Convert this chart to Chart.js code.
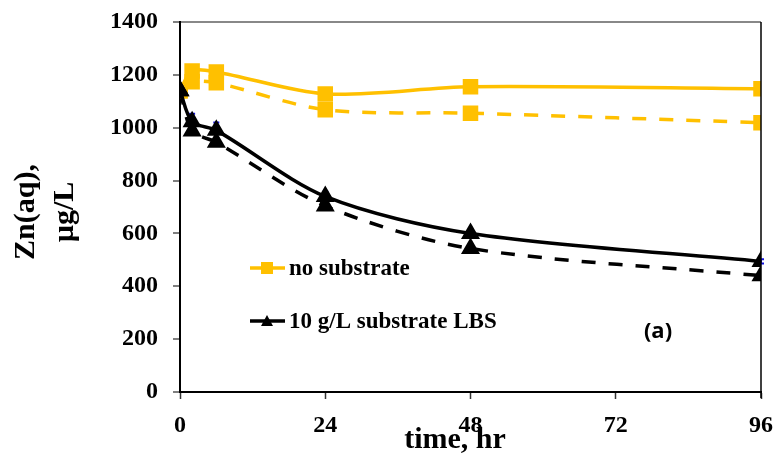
<!DOCTYPE html>
<html>
<head>
<meta charset="utf-8">
<script src="https://cdn.jsdelivr.net/npm/chart.js@4.4.0/dist/chart.umd.min.js"></script>
<style>
  html, body { margin: 0; padding: 0; background: #fff; }
  #wrap { width: 779px; height: 457px; }
</style>
</head>
<body>
<div id="wrap"><canvas id="c" width="779" height="457"></canvas></div>
<script>
// ---- data ----
const timeHr = [0, 2, 6, 24, 48, 96];
const noSubstrateSolid = [1140, 1215, 1211, 1128, 1155, 1147];
const noSubstrateDashed = [1140, 1174, 1170, 1068, 1055, 1019];
const lbsSolid = [1140, 1023, 990, 740, 600, 494];
const lbsDashed = [1140, 988, 945, 704, 543, 440];
const lbsSolidErr = [0, 30, 30, 18, 8, 8];
const xTicks = [0, 24, 48, 72, 96];
const yTicks = [0, 200, 400, 600, 800, 1000, 1200, 1400];
const legendLabels = ["no substrate", "10 g/L substrate LBS"];
const yTitle = ["Zn(aq),", "µg/L"];
const xTitle = "time, hr";
const panelLabel = "(a)";

const YELLOW = '#FFC000';
const BLACK = '#000000';
const SERIF = '"Liberation Serif", "Times New Roman", serif';

const pts = arr => timeHr.map((t, i) => ({ x: t, y: arr[i] }));

const errorBars = {
  id: 'errorBars',
  beforeDatasetsDraw(chart) {
    const { ctx, scales: { x, y } } = chart;
    ctx.save();
    ctx.strokeStyle = '#1010E0';
    ctx.lineWidth = 2;
    timeHr.forEach((t, i) => {
      const e = lbsSolidErr[i];
      if (!e) return;
      const px = x.getPixelForValue(t);
      const top = y.getPixelForValue(lbsSolid[i] + e);
      const bot = y.getPixelForValue(lbsSolid[i] - e);
      ctx.beginPath();
      ctx.moveTo(px, top); ctx.lineTo(px, bot);
      ctx.moveTo(px - 3, top); ctx.lineTo(px + 3, top);
      ctx.moveTo(px - 3, bot); ctx.lineTo(px + 3, bot);
      ctx.stroke();
    });
    ctx.restore();
  }
};

const decor = {
  id: 'decor',
  afterDraw(chart) {
    const { ctx, chartArea: a } = chart;
    ctx.save();
    // right border
    ctx.strokeStyle = '#000';
    ctx.lineWidth = 1.5;
    ctx.beginPath();
    ctx.moveTo(a.right, a.top);
    ctx.lineTo(a.right, a.bottom + 6);
    ctx.stroke();

    // axis titles
    ctx.fillStyle = '#000';
    ctx.font = 'bold 30px ' + SERIF;
    ctx.textAlign = 'center';
    ctx.textBaseline = 'middle';
    ctx.save();
    ctx.translate(26, 212);
    ctx.rotate(-Math.PI / 2);
    ctx.fillText(yTitle[0], 0, 0);
    ctx.restore();
    ctx.save();
    ctx.translate(65, 212);
    ctx.rotate(-Math.PI / 2);
    ctx.fillText(yTitle[1], 0, 0);
    ctx.restore();
    ctx.fillText(xTitle, 455, 440);

    // legend
    const rows = [
      { y: 268, color: YELLOW, shape: 'rect' },
      { y: 321, color: BLACK, shape: 'tri' }
    ];
    ctx.font = 'bold 23px ' + SERIF;
    ctx.textAlign = 'left';
    rows.forEach((r, i) => {
      ctx.strokeStyle = r.color;
      ctx.fillStyle = r.color;
      ctx.lineWidth = 3.5;
      ctx.beginPath();
      ctx.moveTo(250, r.y); ctx.lineTo(285, r.y);
      ctx.stroke();
      if (r.shape === 'rect') {
        ctx.fillRect(267 - 6, r.y - 6, 12, 12);
      } else {
        ctx.beginPath();
        ctx.moveTo(267, r.y - 6);
        ctx.lineTo(273, r.y + 5);
        ctx.lineTo(261, r.y + 5);
        ctx.closePath();
        ctx.fill();
      }
      ctx.fillStyle = '#000';
      ctx.fillText(legendLabels[i], 289, r.y + 1);
    });

    // panel label
    ctx.font = 'bold 22px "Open Sans", sans-serif';
    ctx.textAlign = 'center';
    ctx.fillText(panelLabel, 658, 332);
    ctx.restore();
  }
};

new Chart(document.getElementById('c'), {
  type: 'line',
  data: {
    datasets: [
      {
        label: legendLabels[1], data: pts(lbsSolid),
        borderColor: BLACK, backgroundColor: BLACK, borderWidth: 3.5,
        pointStyle: 'triangle', pointRadius: 7.5, pointHoverRadius: 7.5, tension: 0.3
      },
      {
        label: legendLabels[1] + ' (dashed)', data: pts(lbsDashed),
        borderColor: BLACK, backgroundColor: BLACK, borderWidth: 3.5, borderDash: [14, 13],
        pointStyle: 'triangle', pointRadius: 7.5, pointHoverRadius: 7.5, tension: 0.3
      },
      {
        label: legendLabels[0], data: pts(noSubstrateSolid),
        borderColor: YELLOW, backgroundColor: YELLOW, borderWidth: 3.5,
        pointStyle: 'rect', pointRadius: 8.5, pointHoverRadius: 8.5, tension: 0.3
      },
      {
        label: legendLabels[0] + ' (dashed)', data: pts(noSubstrateDashed),
        borderColor: YELLOW, backgroundColor: YELLOW, borderWidth: 3.5, borderDash: [14, 13],
        pointStyle: 'rect', pointRadius: 8.5, pointHoverRadius: 8.5, tension: 0.3
      }
    ]
  },
  options: {
    responsive: false,
    animation: false,
    devicePixelRatio: 1,
    layout: { padding: { left: 0, right: 18, top: 22, bottom: 0 } },
    plugins: { legend: { display: false }, tooltip: { enabled: false } },
    scales: {
      x: {
        type: 'linear', min: 0, max: 96,
        afterBuildTicks: s => { s.ticks = xTicks.map(v => ({ value: v })); },
        afterFit: s => { s.height = 65; s.paddingLeft = 0; s.paddingRight = 0; },
        ticks: { color: '#000', font: { family: SERIF, size: 24, weight: 'bold' }, padding: 12, maxRotation: 0,
                 callback: v => String(v) },
        grid: { drawOnChartArea: false, tickLength: 7, tickColor: '#333', tickWidth: 1.5 },
        border: { color: '#000', width: 2 }
      },
      y: {
        type: 'linear', min: 0, max: 1400,
        afterBuildTicks: s => { s.ticks = yTicks.map(v => ({ value: v })); },
        afterFit: s => { s.width = 180; s.paddingTop = 0; s.paddingBottom = 0; },
        ticks: { color: '#000', font: { family: SERIF, size: 24, weight: 'bold' }, padding: 15,
                 callback: v => String(v) },
        grid: {
          drawOnChartArea: true, tickLength: 7, tickColor: '#555', tickWidth: 1.5,
          color: c => (c.tick && c.tick.value === 1400) ? '#888' : 'rgba(0,0,0,0)', lineWidth: 2
        },
        border: { color: '#000', width: 2 }
      }
    }
  },
  plugins: [errorBars, decor]
});
</script>
</body>
</html>
